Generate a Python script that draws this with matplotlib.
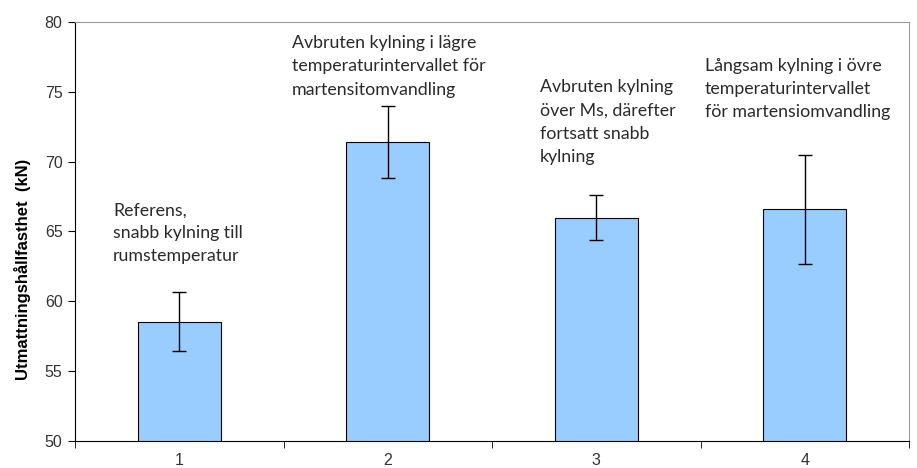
import numpy as np
import matplotlib.pyplot as plt

# Utmattningshållfasthet per behandling
categories = ["1", "2", "3", "4"]
strength = [58.55, 71.4, 66.0, 66.6]
spread = [2.1, 2.6, 1.6, 3.9]
notes = [
    "Referens,\nsnabb kylning till\nrumstemperatur",
    "Avbruten kylning i lägre\ntemperaturintervallet för\nmartensitomvandling",
    "Avbruten kylning\növer Ms, därefter\nfortsatt snabb\nkylning",
    "Långsam kylning i övre\ntemperaturintervallet\nför martensiomvandling",
]

fig = plt.figure(figsize=(9.17, 4.68), dpi=100)
ax = fig.add_axes([0.0818, 0.0577, 0.9095, 0.8953])

x = np.arange(1, len(categories) + 1)
ax.bar(x, strength, width=0.4, color="#99CCFF", edgecolor="black", linewidth=0.8,
       yerr=spread, capsize=5, error_kw=dict(ecolor="black", elinewidth=1, capthick=1))

# text boxes placed above each bar (left edge, top)
note_pos = [(0.682, 67.1), (1.541, 79.05), (2.73, 75.9), (3.522, 77.45)]
for (tx, ty), txt in zip(note_pos, notes):
    ax.text(tx, ty, txt, ha="left", va="top", fontsize=12.8, family="Lato",
            color="#2a2a2a", linespacing=1.55)

ax.set_xlim(0.5, 4.5)
ax.set_ylim(50, 80)
ax.set_yticks(np.arange(50, 81, 5))
ax.set_xticks(x)
ax.set_xticklabels(categories)
ax.set_xticks(np.arange(0.5, 4.6, 1), minor=True)
ax.tick_params(axis="x", which="major", length=0, pad=9)
ax.tick_params(axis="x", which="minor", length=5, direction="out")
ax.tick_params(axis="y", length=5, direction="out", pad=4)
for lab in ax.get_xticklabels() + ax.get_yticklabels():
    lab.set_fontfamily("Liberation Sans")
    lab.set_fontsize(11.5)
    lab.set_color("#333333")

ax.set_ylabel("Utmattningshållfasthet  (kN)", fontsize=12, fontweight="bold",
              family="Liberation Sans")
ax.yaxis.set_label_coords(-0.053, 0.41)

ax.spines["left"].set_color("black")
ax.spines["bottom"].set_color("black")
ax.spines["top"].set_color("#999999")
ax.spines["right"].set_color("#999999")

fig.savefig("out.png", dpi=100)
